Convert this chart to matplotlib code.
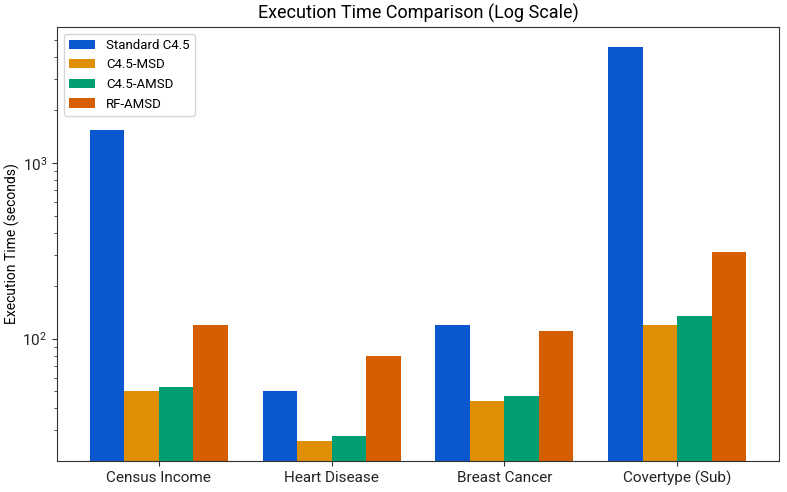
import matplotlib
matplotlib.use("Agg")
import matplotlib.pyplot as plt
import numpy as np

datasets = ["Census Income", "Heart Disease", "Breast Cancer", "Covertype (Sub)"]
series_names = ["Standard C4.5", "C4.5-MSD", "C4.5-AMSD", "RF-AMSD"]
standard_c45 = [1550, 50, 120, 4600]
c45_msd = [50, 26, 44, 120]
c45_amsd = [53, 28, 47, 135]
rf_amsd = [120, 80, 110, 310]
colors = ["#0B57D0", "#DE8F05", "#029E73", "#D55E00"]

plt.rcParams['font.family'] = ['Roboto', 'DejaVu Sans']

fig = plt.figure(figsize=(7.87, 4.92), dpi=100)
ax = fig.add_axes([57/787, 1-461/492, (779-57)/787, (461-27)/492])

x = np.arange(len(datasets))
width = 0.2
all_series = [standard_c45, c45_msd, c45_amsd, rf_amsd]
for i, (name, vals) in enumerate(zip(series_names, all_series)):
    ax.bar(x + (i - 1.5) * width, vals, width, label=name, color=colors[i])

ax.set_yscale('log')
ax.set_xticks(x)
ax.set_xticklabels(datasets, fontsize=11)
ax.tick_params(axis='y', labelsize=11)
ax.set_ylabel("Execution Time (seconds)", fontsize=10, labelpad=2)
ax.set_title("Execution Time Comparison (Log Scale)", fontsize=13)
for s in ax.spines.values():
    s.set_color('#333333')
ax.tick_params(colors='#333333', labelcolor='#222222')
ax.tick_params(which='minor', colors='#333333')
ax.legend(loc='upper left', fontsize=9.5, handlelength=2.0)

fig.savefig("out.png", dpi=100)
